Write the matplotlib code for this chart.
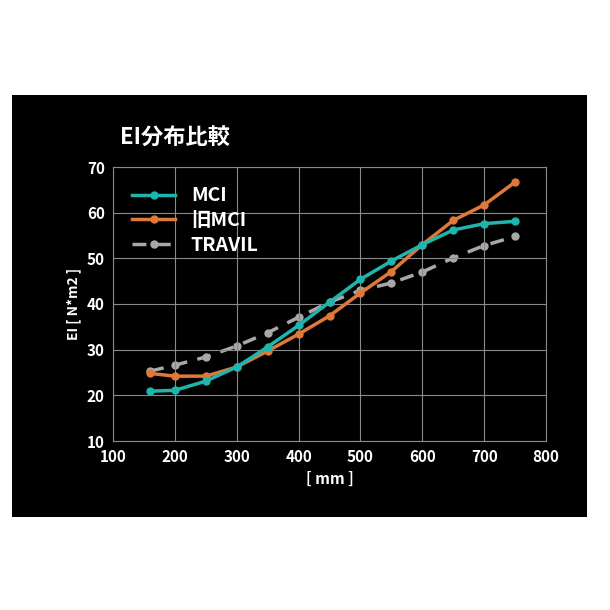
import matplotlib
matplotlib.use("Agg")
import matplotlib.pyplot as plt
from matplotlib.patches import Rectangle

plt.rcParams['font.family'] = ['Noto Sans CJK JP', 'DejaVu Sans']

x = [160, 200, 250, 300, 350, 400, 450, 500, 550, 600, 650, 700, 750]
mci = [20.9, 21.1, 23.1, 26.2, 30.6, 35.3, 40.4, 45.4, 49.4, 53.0, 56.2, 57.6, 58.1]
old_mci = [24.8, 24.2, 24.2, 26.2, 29.7, 33.4, 37.4, 42.4, 47.1, 53.0, 58.3, 61.7, 66.7]
travil = [25.3, 26.6, 28.4, 30.8, 33.7, 37.1, 40.4, 43.0, 44.6, 47.0, 50.1, 52.8, 54.8]

fig = plt.figure(figsize=(6.1, 6.1), dpi=100, facecolor='white')
fig.patches.append(Rectangle((12/610, 1-517/610), 575/610, 422/610,
                             transform=fig.transFigure, facecolor='black', zorder=-5))
ax = fig.add_axes([113/610, 1-441/610, 433/610, 274/610])
ax.set_zorder(2)
ax.set_facecolor('black')
ax.plot(x, mci, '-o', color='#1fb5ad', lw=2.5, ms=5, label='MCI', zorder=3)
ax.plot(x, old_mci, '-o', color='#e0783a', lw=2.5, ms=5, label='旧MCI', zorder=2)
ax.plot(x, travil, '--o', color='#a8a8a8', lw=2.5, ms=5, label='TRAVIL', dashes=(4, 3), zorder=1)
ax.set_xlim(100, 800)
ax.set_ylim(10, 70)
ax.set_xticks(range(100, 801, 100))
ax.set_yticks(range(10, 71, 10))
ax.grid(True, color='#8a8a8a', lw=0.8)
for s in ax.spines.values():
    s.set_color('#8a8a8a')
ax.tick_params(colors='white', length=0, pad=6, labelsize=11)
for t in ax.get_xticklabels() + ax.get_yticklabels():
    t.set_fontweight('bold')
ax.set_xlabel('[ mm ]', color='white', fontweight='bold', fontsize=11)
ax.set_ylabel('EI [ N*m2 ]', color='white', fontweight='bold', fontsize=10)
leg = ax.legend(loc='upper left', frameon=False, fontsize=14, handlelength=2.2,
                labelspacing=0.3, borderaxespad=0.6)
for t in leg.get_texts():
    t.set_color('white'); t.set_fontweight('bold')
fig.text(120/610, 1-138/610, 'EI分布比較', color='white', fontsize=16,
         fontweight='bold', va='center')
fig.savefig('out.png', dpi=100, facecolor='white')
